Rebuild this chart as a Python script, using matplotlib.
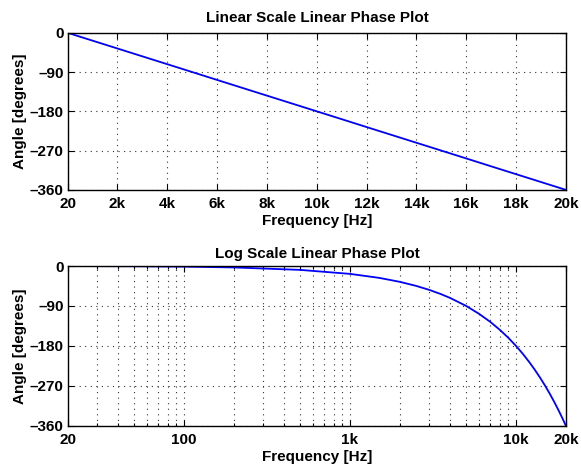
import matplotlib
matplotlib.use("Agg")
import matplotlib.pyplot as plt
from matplotlib.ticker import FixedLocator, NullFormatter

# linear phase response, 20 Hz .. 20 kHz
freq_hz = [20, 50, 100, 200, 500, 1000, 1500, 2000, 2500, 3000, 3500, 4000,
           5000, 6000, 7000, 8000, 9000, 10000, 11000, 12000, 13000, 14000,
           15000, 16000, 17000, 18000, 19000, 20000]
phase_deg = [0.0, -0.5, -1.4, -3.2, -8.7, -17.7, -26.7, -35.7, -44.7, -53.7,
             -62.7, -71.7, -89.7, -107.8, -125.8, -143.8, -161.8, -179.8,
             -197.8, -215.9, -233.9, -251.9, -269.9, -287.9, -306.0, -324.0,
             -342.0, -360.0]

lin_ticks = [20, 2000, 4000, 6000, 8000, 10000, 12000, 14000, 16000, 18000, 20000]
lin_labels = ["20", "2k", "4k", "6k", "8k", "10k", "12k", "14k", "16k", "18k", "20k"]
log_ticks = [20, 100, 1000, 10000, 20000]
log_labels = ["20", "100", "1k", "10k", "20k"]
log_minor = [30, 40, 50, 60, 70, 80, 90, 200, 300, 400, 500, 600, 700, 800, 900,
             2000, 3000, 4000, 5000, 6000, 7000, 8000, 9000]
y_ticks = [0, -90, -180, -270, -360]

plt.rcParams["font.family"] = ["Liberation Sans", "DejaVu Sans"]
plt.rcParams["font.weight"] = "bold"
plt.rcParams["font.size"] = 11

fig = plt.figure(figsize=(5.81, 4.70), dpi=100)
ax1 = fig.add_axes([0.117, 0.596, 0.857, 0.334])
ax2 = fig.add_axes([0.117, 0.094, 0.857, 0.340])

GRID = dict(color="#333333", linestyle=(0, (1, 4)), linewidth=0.8)


def style(ax):
    ax.set_ylim(-360, 0)
    ax.set_yticks(y_ticks)
    ax.set_yticklabels([str(v).replace("-", "\u2013") for v in y_ticks])
    ax.tick_params(which="both", direction="in", top=True, right=True,
                   width=0.8, labelsize=11)
    ax.tick_params(which="major", length=4)
    ax.tick_params(axis="x", which="major", pad=5)
    ax.tick_params(axis="y", which="major", pad=3)
    ax.tick_params(which="minor", length=2.5)
    for sp in ax.spines.values():
        sp.set_linewidth(1.0)
    ax.set_ylabel("Angle [degrees]", fontweight="bold", labelpad=2)
    ax.set_xlabel("Frequency [Hz]", fontweight="bold", labelpad=2)


ax1.plot(freq_hz, phase_deg, color="#0000ff", linewidth=1.3)
ax1.set_xlim(20, 20000)
ax1.set_xticks(lin_ticks)
ax1.set_xticklabels(lin_labels)
ax1.grid(True, which="major", **GRID)
style(ax1)
ax1.set_title("Linear Scale Linear Phase Plot", fontweight="bold", fontsize=11, pad=8)

ax2.plot(freq_hz, phase_deg, color="#0000ff", linewidth=1.3)
ax2.set_xscale("log")
ax2.set_xlim(20, 20000)
ax2.xaxis.set_major_locator(FixedLocator(log_ticks))
ax2.set_xticklabels(log_labels)
ax2.xaxis.set_minor_locator(FixedLocator(log_minor))
ax2.xaxis.set_minor_formatter(NullFormatter())
ax2.grid(True, which="both", **GRID)
style(ax2)
ax2.set_title("Log Scale Linear Phase Plot", fontweight="bold", fontsize=11, pad=6)

fig.savefig("out.png", dpi=100)
